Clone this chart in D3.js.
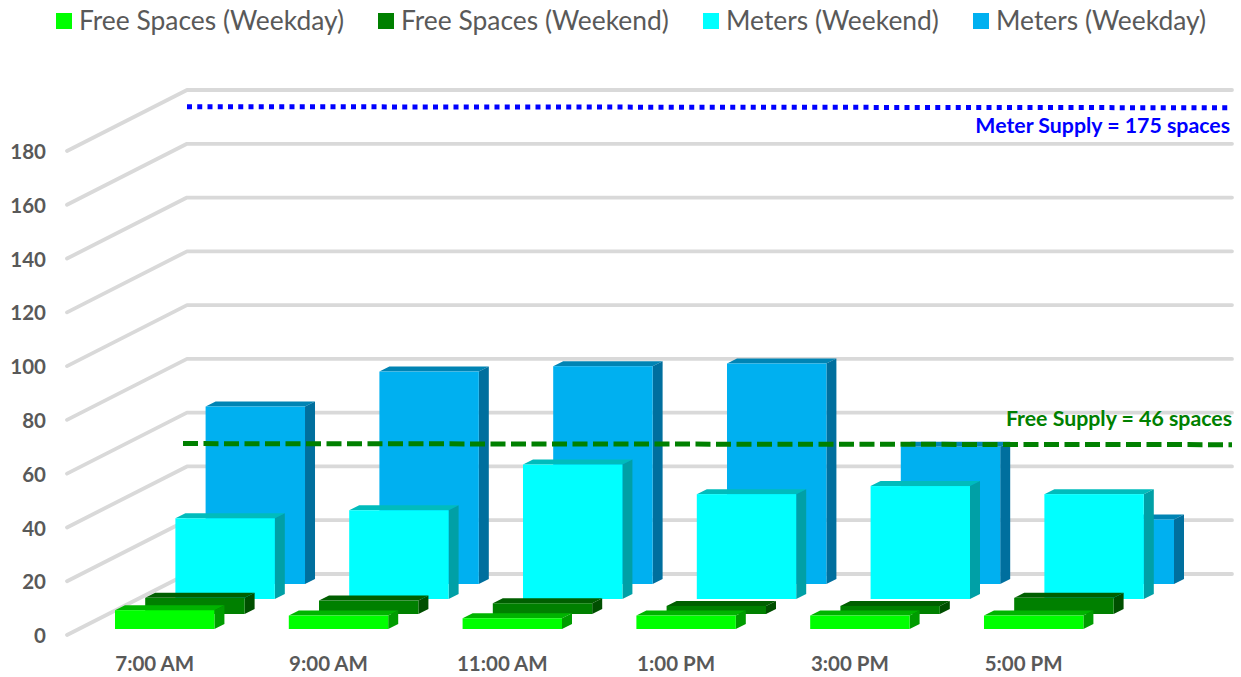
<!DOCTYPE html>
<html><head><meta charset="utf-8">
<script src="https://cdn.jsdelivr.net/npm/d3@7/dist/d3.min.js"></script>
<style>html,body{margin:0;padding:0;background:#fff}svg{display:block}text{font-family:Lato,"Noto Sans",sans-serif}</style>
</head><body><svg id="c" width="1241" height="677"></svg>
<script>
const categories = ["7:00 AM","9:00 AM","11:00 AM","1:00 PM","3:00 PM","5:00 PM"];
const seriesNames = ["Free Spaces (Weekday)","Free Spaces (Weekend)","Meters (Weekend)","Meters (Weekday)"];
const freeWeekday = [7,5,4,5,5,5];
const freeWeekend = [6,5,4,3,3,6];
const metersWeekend = [30,33,50,39,42,39];
const metersWeekday = [66,79,81,82,51,24];
const yTicks = [0,20,40,60,80,100,120,140,160,180];
const meterSupplyLine = [173.8,173.4];
const freeSupplyLine = [48.5,48.1];
const meterLabel = "Meter Supply = 175 spaces";
const freeLabel = "Free Supply = 46 spaces";
const frontColors = ["#00ff00","#008000","#00ffff","#00b0f0"];
const sideColors = ["#009c00","#004f00","#00a0a6","#006f9e"];
const topColors = ["#00b400","#005f00","#00bcbc","#0084b4"];
const allValues = [freeWeekday,freeWeekend,metersWeekend,metersWeekday];

const svg = d3.select("#c");
const unit = d3.scaleLinear().domain([0,180]).range([0,484]);
const yFront = d3.scaleLinear().domain([0,180]).range([635,151]);
const yBack = d3.scaleLinear().domain([0,180]).range([574,90]);
const backLeft = 187, frontLeft = 67, backRight = 1232;

// gridlines (side wall + back wall)
const grid = svg.append("g").attr("fill","none").attr("stroke","#d9d9d9").attr("stroke-width",3.8)
  .attr("stroke-linecap","round").attr("stroke-linejoin","round");
grid.selectAll("path").data(yTicks).join("path")
  .attr("d", d => d3.line()([[frontLeft,yFront(d)],[backLeft,yBack(d)],[backRight,yBack(d)]]));

// value axis
const axisY = svg.append("g").attr("transform","translate(54,1)")
  .call(d3.axisLeft(yFront).tickValues(yTicks).tickSize(0).tickPadding(8));
axisY.select(".domain").remove();
axisY.selectAll("text").attr("font-size",20.5).attr("font-weight",700).attr("fill","#595959").style("font-family","Lato");

// category scale & depth rows
const x = d3.scaleBand().domain(categories).range([115,1083.4]).paddingInner(0.428).paddingOuter(0);
const rowX = d3.scaleLinear().domain([0,3]).range([0,90.6]);
const rowBase = d3.scaleLinear().domain([0,3]).range([629,584]);
const dx = 10, dy = -5;

const axisX = svg.append("g").attr("transform","translate(-10,653)")
  .call(d3.axisBottom(x).tickSize(0).tickPadding(3));
axisX.select(".domain").remove();
axisX.selectAll("text").attr("font-size",20.5).attr("font-weight",700).attr("fill","#595959").style("font-family","Lato");

// bars, back row first
[3,2,1,0].forEach(r => {
  const g = svg.append("g");
  const cells = g.selectAll("g").data(allValues[r].map((v,i)=>({v,c:categories[i]}))).join("g");
  const geom = d => {
    const l = x(d.c)+rowX(r), w = x.bandwidth(), b = rowBase(r), t = b-unit(d.v);
    return {l,w,b,t};
  };
  cells.append("path").attr("fill",topColors[r]).attr("d",d=>{const {l,w,t}=geom(d);
    return d3.line()([[l,t],[l+dx,t+dy],[l+w+dx,t+dy],[l+w,t]])+"Z";});
  cells.append("path").attr("fill",sideColors[r]).attr("d",d=>{const {l,w,b,t}=geom(d);
    return d3.line()([[l+w,t],[l+w+dx,t+dy],[l+w+dx,b+dy],[l+w,b]])+"Z";});
  cells.append("rect").attr("fill",frontColors[r])
    .attr("x",d=>geom(d).l).attr("y",d=>geom(d).t).attr("width",x.bandwidth()).attr("height",d=>unit(d.v));
});

// supply lines
svg.append("path").attr("fill","none").attr("stroke","#0000ff").attr("stroke-width",5).attr("stroke-dasharray","5 5.25")
  .attr("d",d3.line()([[187,yBack(meterSupplyLine[0])],[1232,yBack(meterSupplyLine[1])]]));
svg.append("path").attr("fill","none").attr("stroke","#008000").attr("stroke-width",5).attr("stroke-dasharray","15 5.5")
  .attr("d",d3.line()([[183,yBack(freeSupplyLine[0])],[1232,yBack(freeSupplyLine[1])]]));
svg.append("text").text(meterLabel).attr("x",1230).attr("y",133).attr("text-anchor","end")
  .attr("font-size",21.3).attr("font-weight",700).attr("fill","#0000ff");
svg.append("text").text(freeLabel).attr("x",1232).attr("y",426).attr("text-anchor","end")
  .attr("font-size",21.3).attr("font-weight",700).attr("fill","#008000");

// legend
const legendSwatchX = [56,378,703,973];
const legend = svg.append("g").selectAll("g").data(seriesNames).join("g")
  .attr("transform",(d,i)=>`translate(${legendSwatchX[i]},13)`);
legend.append("rect").attr("width",16).attr("height",16).attr("fill",(d,i)=>frontColors[i]);
legend.append("text").text(d=>d).attr("x",23).attr("y",17).attr("font-size",26.4).attr("fill","#595959");
</script></body></html>
